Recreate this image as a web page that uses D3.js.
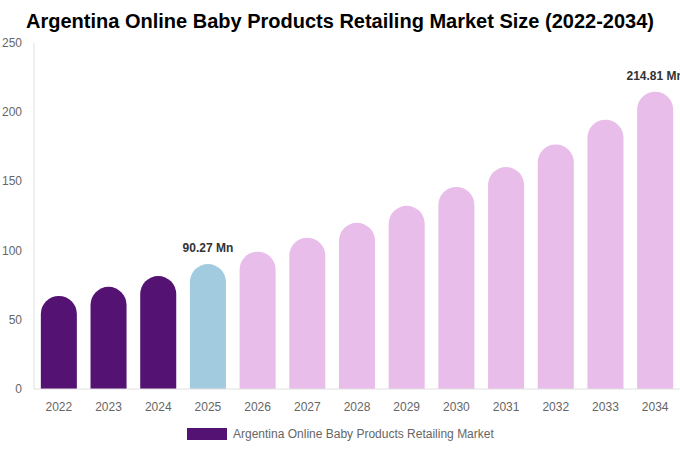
<!DOCTYPE html>
<html>
<head>
<meta charset="utf-8">
<script src="https://cdn.jsdelivr.net/npm/d3@7"></script>
<style>
  body { margin: 0; background: #fff; }
  text { font-family: "Liberation Sans", Arial, sans-serif; }
</style>
</head>
<body>
<div id="chart"></div>
<script>
const years = ["2022", "2023", "2024", "2025", "2026", "2027", "2028", "2029", "2030", "2031", "2032", "2033", "2034"];
const values = [67.2, 73.8, 81.6, 90.27, 99.2, 109.3, 120.1, 132.4, 146.0, 160.4, 176.7, 194.6, 214.81];
const yTicks = [0, 50, 100, 150, 200, 250];
const labelled = { "2025": "90.27 Mn", "2034": "214.81 Mn" };
const seriesName = "Argentina Online Baby Products Retailing Market";

const width = 680, height = 450;
const margin = { top: 43, right: 0, bottom: 61, left: 34 };

const svg = d3.select("#chart").append("svg")
  .attr("width", width)
  .attr("height", height);

svg.append("text")
  .attr("x", width / 2)
  .attr("y", 28)
  .attr("text-anchor", "middle")
  .attr("font-size", 20)
  .attr("font-weight", "bold")
  .attr("fill", "#000")
  .text("Argentina Online Baby Products Retailing Market Size (2022-2034)");

const x = d3.scaleBand()
  .domain(years)
  .range([margin.left, width - margin.right])
  .paddingInner(0.275)
  .paddingOuter(0.1375);

const y = d3.scaleLinear()
  .domain([0, 250])
  .range([height - margin.bottom, margin.top]);

function colorFor(yr) {
  if (+yr < 2025) return "#541272";
  if (+yr === 2025) return "#a3cbe0";
  return "#e8bde9";
}

// axes lines
svg.append("line")
  .attr("x1", margin.left).attr("x2", margin.left)
  .attr("y1", margin.top).attr("y2", y(0))
  .attr("stroke", "#e0e0e0");

svg.selectAll(".ytick")
  .data(yTicks)
  .enter().append("text")
  .attr("class", "ytick")
  .attr("x", 22)
  .attr("y", d => y(d) + 4)
  .attr("text-anchor", "end")
  .attr("font-size", 12)
  .attr("fill", "#666")
  .text(d => d);

// bars with rounded tops
svg.selectAll(".bar")
  .data(years)
  .enter().append("path")
  .attr("class", "bar")
  .attr("fill", d => colorFor(d))
  .attr("d", (d, i) => {
    const w = x.bandwidth(), r = w / 2;
    const x0 = x(d), yb = y(0), yt = y(values[i]);
    return `M${x0},${yb} L${x0},${yt + r} A${r},${r} 0 0 1 ${x0 + w},${yt + r} L${x0 + w},${yb} Z`;
  });

svg.append("line")
  .attr("x1", margin.left).attr("x2", width)
  .attr("y1", y(0)).attr("y2", y(0))
  .attr("stroke", "#e0e0e0");

svg.selectAll(".xtick")
  .data(years)
  .enter().append("text")
  .attr("class", "xtick")
  .attr("x", d => x(d) + x.bandwidth() / 2)
  .attr("y", 411)
  .attr("text-anchor", "middle")
  .attr("font-size", 12)
  .attr("fill", "#666")
  .text(d => d);

svg.selectAll(".vlabel")
  .data(years.filter(d => labelled[d]))
  .enter().append("text")
  .attr("class", "vlabel")
  .attr("x", d => x(d) + x.bandwidth() / 2)
  .attr("y", d => y(values[years.indexOf(d)]) - 12)
  .attr("text-anchor", "middle")
  .attr("font-size", 12)
  .attr("font-weight", "bold")
  .attr("fill", "#333")
  .text(d => labelled[d]);

// legend
svg.append("rect")
  .attr("x", 187).attr("y", 428)
  .attr("width", 40).attr("height", 12)
  .attr("fill", "#541272");

svg.append("text")
  .attr("x", 233)
  .attr("y", 438)
  .attr("font-size", 12)
  .attr("fill", "#666")
  .text(seriesName);
</script>
</body>
</html>
